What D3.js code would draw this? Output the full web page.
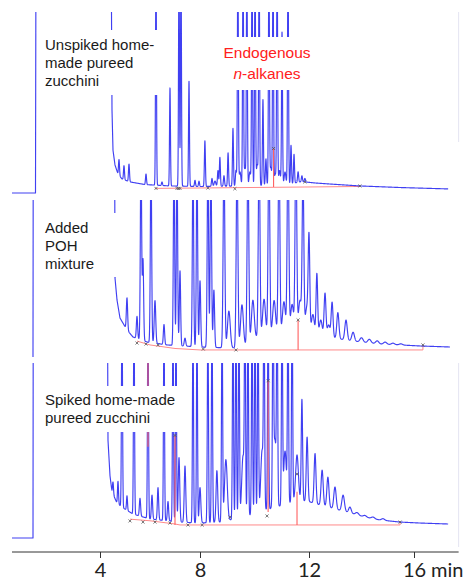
<!DOCTYPE html>
<html><head><meta charset="utf-8">
<script src="https://cdn.jsdelivr.net/npm/d3@7"></script>
<style>body{margin:0;background:#fff}svg{display:block}</style>
</head><body><svg id="c" width="467" height="581"></svg>
<script>
// ---------- axis data ----------
const tickMinutes = [4, 8, 12, 16];
const axisExtent = [0.48, 17.7];
const axisUnit = "min";

// ---------- panel 1 : unspiked ----------
const p1Label = ["Unspiked home-", "made pureed", "zucchini"];
const p1Base = [[0.48,-3.4],[1.42,-3.4],[1.46,300],[4.40,300],[4.46,100],[4.48,44],[4.52,21],[4.60,12.6],[4.72,7.4],[4.88,4.6],[5.2,2.9],[5.8,1.4],[6.8,0.6],[8.0,0.3],[9.83,0.6],[11.30,1.7],[11.67,2.9],[11.85,2.9],[12.23,2.3],[12.8,1.7],[13.94,0.6],[15.47,-0.3],[17.30,-1.1]];
const p1Peaks = [[4.76,9,.02],[4.96,8,.02],[5.16,10,.02],[5.84,6,.02],[6.24,130,.018],[6.48,2,.02],[6.80,56,.018],[7.16,130,.018],[7.24,130,.018],[7.56,60,.018],[7.80,3.5,.02],[7.96,3,.02],[8.18,26,.018],[8.44,4.5,.02],[8.55,3,.03],[8.66,9,.02],[8.73,16.5,.018],[8.88,6,.02],[9.03,19,.018],[9.21,33,.018],[9.32,9,.02],[9.39,130,.018],[9.47,8,.03],[9.58,130,.018],[9.65,10,.03],[9.72,130,.018],[9.83,8,.03],[9.91,130,.018],[10.02,130,.018],[10.10,12,.03],[10.17,130,.018],[10.31,49,.018],[10.42,15,.02],[10.53,130,.018],[10.60,10,.03],[10.68,130,.018],[10.76,6,.03],[10.83,130,.018],[10.92,8,.03],[11.01,87,.018],[11.12,7,.03],[11.23,130,.018],[11.34,22,.018],[11.45,16.5,.018],[11.60,6,.02],[11.74,3.5,.02],[11.85,2,.02]];
const p1RedBase = [[6.2,-0.8],[11.85,0],[13.94,0.3]];
const p1RedDrops = [[10.70,22,0]];
const p1Marks = [[6.24,-0.8],[7.08,-0.8],[7.14,-0.8],[7.20,-0.8],[8.29,-0.6],[9.28,-1],[10.70,22],[11.85,2.9],[13.94,0.6]];
const p1Note = ["Endogenous", "-alkanes"];

// ---------- panel 2 : POH mixture ----------
const p2Label = ["Added", "POH", "mixture"];
const p2Base = [[1.32,-6.8],[1.34,300],[4.56,300],[4.60,47],[4.68,32],[4.80,19.7],[5.08,11.6],[5.32,6.8],[5.88,3.4],[6.68,1.4],[8.0,0],[9.21,-0.7],[9.72,1.4],[10.02,6.1],[10.39,8.8],[10.94,10.2],[11.60,12.9],[11.85,12.2],[12.23,9.5],[12.61,7.5],[12.99,6.1],[13.37,4.8],[13.94,3.4],[14.70,2.0],[15.47,1.4],[16.23,0.7],[17.37,0]];
const p2Peaks = [[5.08,21.8,.025],[5.48,15,.025],[5.64,130,.025],[5.72,55,.025],[6.04,130,.025],[6.20,29,.03],[6.56,13.6,.025],[6.96,130,.025],[7.08,130,.025],[7.20,51,.025],[7.40,5.4,.03],[7.72,130,.025],[7.88,130,.025],[8.00,45,.025],[8.29,130,.025],[8.40,130,.025],[8.51,39,.025],[8.88,130,.03],[9.06,25,.05],[9.36,130,.03],[9.54,28,.05],[9.76,130,.03],[9.94,27,.05],[10.17,130,.03],[10.35,24,.05],[10.53,130,.03],[10.72,22,.05],[10.90,130,.03],[11.08,20,.05],[11.23,130,.03],[11.38,17,.05],[11.52,130,.03],[11.67,19,.05],[11.78,105,.03],[11.92,15,.05],[12.00,62.6,.03],[12.15,12,.05],[12.30,40.8,.03],[12.45,10,.05],[12.61,29,.035],[12.75,8,.05],[12.88,23.8,.035],[13.10,17.7,.04],[13.41,13.6,.045],[13.68,6,.05],[14.0,3,.06],[14.3,2.5,.06],[14.6,2,.06],[14.9,1.5,.06],[15.2,1,.06],[15.5,0.8,.06]];
const p2RedBase = [[5.48,4],[6.0,1.4],[7.0,-1],[8.0,-2],[16.34,-2],[16.34,1.4]];
const p2RedDrops = [[11.60,18.4,-2]];
const p2Marks = [[5.48,2.7],[5.84,2],[6.32,1.4],[8.12,-1.4],[9.32,-2],[11.60,18.4],[16.34,1.4]];

// ---------- panel 3 : spiked ----------
const p3Label = ["Spiked home-made", "pureed zucchini"];
const p3Base = [[0.48,-8.7],[1.32,-8.7],[1.34,300],[4.26,300],[4.32,52],[4.40,30],[4.48,20],[4.68,13],[4.92,10],[5.32,6.2],[6.0,3.1],[7.2,1.2],[8.0,0.6],[8.73,1.2],[9.47,3.7],[10.20,7.5],[10.94,11.2],[11.56,14.9],[12.04,13.7],[12.42,11.8],[12.99,9.3],[13.56,6.8],[14.13,4.3],[14.70,2.5],[15.47,1.2],[16.23,0.6],[17.30,0]];
const p3Peaks = [[4.52,7.5,.02],[4.72,14,.02],[4.88,130,.02],[5.08,9,.02],[5.36,130,.02],[5.60,11,.025],[5.92,130,.02],[6.08,15,.025],[6.32,20,.025],[6.56,130,.02],[6.72,12,.025],[6.92,130,.02],[7.04,130,.02],[7.16,40,.03],[7.40,35,.03],[7.72,130,.02],[7.88,130,.02],[8.00,22,.03],[8.29,130,.02],[8.44,130,.02],[8.62,32,.03],[8.81,130,.02],[8.95,38,.05],[9.21,130,.02],[9.32,130,.02],[9.43,130,.02],[9.58,38,.05],[9.65,130,.02],[9.76,130,.02],[9.91,130,.02],[10.02,130,.02],[10.13,130,.02],[10.28,38,.05],[10.35,130,.02],[10.50,130,.02],[10.68,130,.02],[10.75,42,.05],[10.83,130,.02],[11.01,130,.02],[11.12,33,.05],[11.23,130,.02],[11.38,130,.02],[11.56,28,.05],[11.74,63,.025],[11.93,40,.03],[12.23,31,.035],[12.50,22,.04],[12.72,18.6,.04],[12.99,13.7,.045],[13.30,10,.05],[13.56,3.7,.05],[13.83,1.5,.06],[14.13,1,.06],[14.44,1,.06],[14.82,1,.06]];
const p3RedBase = [[5.2,3],[6.0,2],[7.0,0],[7.2,-0.6],[15.47,-0.6],[15.47,1.2]];
const p3RedDrops = [[5.92,130,48],[7.00,55,-0.6],[10.50,89,7.5],[11.56,20,-0.6]];
const p3Marks = [[5.2,1.9],[5.72,1.2],[6.2,1.2],[6.8,0.6],[7.52,-0.6],[8.08,-0.6],[9.10,4.3],[10.46,5],[11.56,31],[10.50,89],[7.00,55],[15.47,1.2]];

// ---------- drawing ----------
const svg = d3.select("#c");
const x = d3.scaleLinear().domain(tickMinutes).range([100, 200, 309, 414]);

const panels = [
  {base:p1Base, peaks:p1Peaks, red:p1RedBase, drops:p1RedDrops, marks:p1Marks, label:p1Label,
   yTop:12, yBase:187, clipBottom:199, labelX:45, labelY:50, box:[40,30,125,65], edge:[12,142]},
  {base:p2Base, peaks:p2Peaks, red:p2RedBase, drops:p2RedDrops, marks:p2Marks, label:p2Label,
   yTop:200, yBase:347, clipBottom:360, labelX:45, labelY:233, box:[40,213,90,64]},
  {base:p3Base, peaks:p3Peaks, red:p3RedBase, drops:p3RedDrops, marks:p3Marks, label:p3Label,
   yTop:363, yBase:524, clipBottom:546, labelX:45, labelY:405, box:[40,386,145,46], edge:[363,547]}
];

const defs = svg.append("defs");
const bis = d3.bisector(d => d[0]).right;

panels.forEach((p, i) => {
  const y = d3.scaleLinear().domain([0, 100]).range([p.yBase, p.yTop]);
  const cid = "clip" + i;
  defs.append("clipPath").attr("id", cid).append("rect")
    .attr("x", 0).attr("y", p.yTop).attr("width", 467).attr("height", p.clipBottom - p.yTop);

  const t0 = p.base[0][0], t1 = p.base[p.base.length - 1][0];
  const baseAt = t => {
    const k = Math.min(Math.max(bis(p.base, t), 1), p.base.length - 1);
    const a = p.base[k - 1], b = p.base[k];
    return a[1] + (b[1] - a[1]) * (t - a[0]) / (b[0] - a[0]);
  };
  let ts = d3.range(t0, t1, 0.004).concat(p.base.map(d => d[0]), p.peaks.map(d => d[0]));
  ts = Array.from(new Set(ts.filter(t => t >= t0 && t <= t1).map(t => +t.toFixed(4)))).sort((a, b) => a - b);
  const pts = ts.map(t => {
    let s = baseAt(t);
    for (const pk of p.peaks) {
      const z = (t - pk[0]) / pk[2];
      if (Math.abs(z) < 6) s += pk[1] * Math.exp(-0.5 * z * z);
    }
    return [t, s];
  });

  const g = svg.append("g").attr("clip-path", `url(#${cid})`);
  const line = d3.line().x(d => x(d[0])).y(d => y(d[1]));

  // red integration baseline
  g.append("path").attr("d", line(p.red)).attr("fill", "none")
    .attr("stroke", "#ff8a8a").attr("stroke-width", 1);

  // trace
  g.append("path").attr("d", line(pts)).attr("fill", "none")
    .attr("stroke", "#1e1ef0").attr("stroke-opacity", 0.85).attr("stroke-width", 1.15)
    .attr("stroke-linejoin", "round");

  // red drop lines
  g.selectAll("line.drop").data(p.drops).join("line").attr("class", "drop")
    .attr("x1", d => x(d[0])).attr("x2", d => x(d[0]))
    .attr("y1", d => y(d[1])).attr("y2", d => y(d[2]))
    .attr("stroke", "#ff6060").attr("stroke-width", 1.1);

  // integration markers
  g.selectAll("path.mk").data(p.marks).join("path").attr("class", "mk")
    .attr("transform", d => `translate(${x(d[0])},${y(d[1])})`)
    .attr("d", d3.symbol(d3.symbolTimes, 7))
    .attr("fill", "none").attr("stroke", "#555").attr("stroke-width", 0.8);

  // faint right edge
  if (p.edge) {
    svg.append("line").attr("x1", x(axisExtent[1])).attr("x2", x(axisExtent[1]))
      .attr("y1", p.edge[0]).attr("y2", p.edge[1]).attr("stroke", "#e4e4f2").attr("stroke-width", 1);
  }

  // label background + label
  svg.append("rect").attr("x", p.box[0]).attr("y", p.box[1]).attr("width", p.box[2]).attr("height", p.box[3]).attr("fill", "#fff");
  const tx = svg.append("text").attr("x", p.labelX).attr("y", p.labelY)
    .attr("font-family", "Liberation Sans, Arial, sans-serif").attr("font-size", 15).attr("fill", "#1a1a1a");
  tx.selectAll("tspan").data(p.label).join("tspan").attr("x", p.labelX).attr("dy", (d, j) => j ? 18.2 : 0).text(d => d);
});

// red note in panel 1
svg.append("rect").attr("x", 222).attr("y", 37).attr("width", 90).attr("height", 53).attr("fill", "#fff");
const note = svg.append("text").attr("x", 267).attr("y", 58).attr("text-anchor", "middle")
  .attr("font-family", "Liberation Sans, Arial, sans-serif").attr("font-size", 15.5).attr("fill", "#ff2020");
note.append("tspan").attr("x", 267).text(p1Note[0]);
const l2 = note.append("tspan").attr("x", 267).attr("dy", 21);
l2.append("tspan").attr("font-style", "italic").text("n");
l2.append("tspan").text(p1Note[1]);

// time axis
const ax = svg.append("g").attr("transform", "translate(0,552)");
ax.call(d3.axisBottom(x).tickValues(tickMinutes).tickSize(6).tickSizeOuter(0));
ax.select(".domain").remove();
ax.append("line").attr("x1", x(axisExtent[0])).attr("x2", x(axisExtent[1])).attr("stroke", "#333");
ax.selectAll(".tick line").attr("stroke", "#333");
ax.selectAll(".tick text").attr("y", 25).attr("dy", 0)
  .attr("font-family", "Lato, sans-serif").attr("font-size", 20).attr("fill", "#222");
ax.append("text").attr("x", x(16) + 17).attr("y", 25).attr("text-anchor", "start")
  .attr("font-family", "Lato, sans-serif").attr("font-size", 20).attr("fill", "#222").text(axisUnit);
</script></body></html>
